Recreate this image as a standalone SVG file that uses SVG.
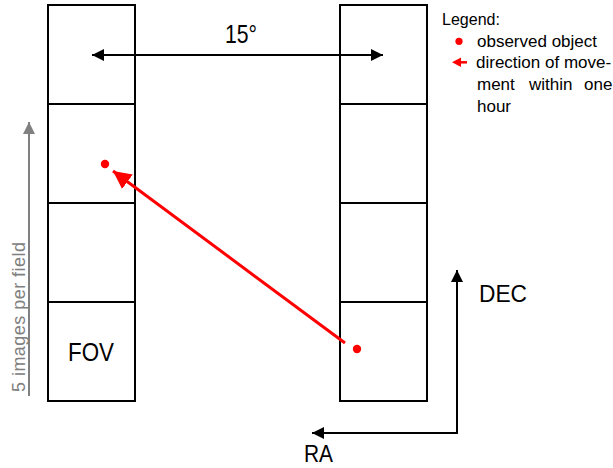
<svg xmlns="http://www.w3.org/2000/svg" width="613" height="468" viewBox="0 0 613 468">
<style>
  .cell { fill: #fff; stroke: #000; stroke-width: 2; }
  .t { font-family: "Liberation Sans", Arial, sans-serif; fill: #000; }
  .lg { font-size: 17px; }
  .blk { stroke: #000; stroke-width: 2; fill: none; }
  .red { stroke: #ff0000; stroke-width: 3; fill: none; }
</style>
<defs>
  <marker id="ah" viewBox="0 0 10 10" refX="10" refY="5" markerWidth="6" markerHeight="6" markerUnits="strokeWidth" orient="auto-start-reverse">
    <path d="M0,0 L10,5 L0,10 Z" fill="#000"/>
  </marker>
  <marker id="ahg" viewBox="0 0 10 10" refX="10" refY="5" markerWidth="6" markerHeight="6" markerUnits="strokeWidth" orient="auto">
    <path d="M0,0 L10,5 L0,10 Z" fill="#808080"/>
  </marker>
  <marker id="ahr" viewBox="0 0 10 10" refX="10" refY="5" markerWidth="6" markerHeight="6" markerUnits="strokeWidth" orient="auto">
    <path d="M0,0 L10,5 L0,10 Z" fill="#ff0000"/>
  </marker>
</defs>
<rect width="613" height="468" fill="#fff"/>
<g id="left-column">
  <rect class="cell" x="48" y="5" width="87" height="99"/>
  <rect class="cell" x="48" y="104" width="87" height="99"/>
  <rect class="cell" x="48" y="203" width="87" height="99"/>
  <rect class="cell" x="48" y="302" width="87" height="99"/>
  <text class="t" x="68" y="361" font-size="25" textLength="46" lengthAdjust="spacingAndGlyphs">FOV</text>
</g>
<g id="right-column">
  <rect class="cell" x="340" y="5" width="87" height="99"/>
  <rect class="cell" x="340" y="104" width="87" height="99"/>
  <rect class="cell" x="340" y="203" width="87" height="99"/>
  <rect class="cell" x="340" y="302" width="87" height="99"/>
</g>
<g id="objects">
  <circle cx="105" cy="164" r="4.2" fill="#ff0000"/>
  <circle cx="357" cy="349" r="4.2" fill="#ff0000"/>
</g>
<g id="connectors">
  <line class="blk" x1="92" y1="55" x2="383" y2="55" marker-start="url(#ah)" marker-end="url(#ah)"/>
  <line x1="29" y1="396" x2="29" y2="122" stroke="#808080" stroke-width="2" marker-end="url(#ahg)"/>
  <line class="red" x1="345" y1="343" x2="113" y2="171" marker-end="url(#ahr)"/>
  <polyline class="blk" points="457,270 457,433 312,433" marker-start="url(#ah)" marker-end="url(#ah)"/>
</g>
<g id="labels">
  <text class="t" x="225" y="43" font-size="25" textLength="32" lengthAdjust="spacingAndGlyphs">15°</text>
  <text class="t" x="479" y="302" font-size="24" textLength="48" lengthAdjust="spacingAndGlyphs">DEC</text>
  <text class="t" x="304" y="462" font-size="24" textLength="29" lengthAdjust="spacingAndGlyphs">RA</text>
  <text class="t" x="0" y="0" font-size="18" style="fill:#808080" textLength="150" transform="translate(25,392) rotate(-90)">5 images per field</text>
</g>
<g id="legend">
  <text class="t lg" x="442" y="25" textLength="58" lengthAdjust="spacingAndGlyphs">Legend:</text>
  <circle cx="459" cy="41.3" r="3.6" fill="#ff0000"/>
  <text class="t lg" x="477" y="47">observed object</text>
  <line x1="467" y1="62.3" x2="459" y2="62.3" stroke="#ff0000" stroke-width="2.5"/>
  <polygon points="452,62.3 461,57.5 461,67" fill="#ff0000"/>
  <text class="t lg" x="476" y="68">direction of move-</text>
  <text class="t lg" y="90"><tspan x="477">ment</tspan><tspan x="529">within</tspan><tspan x="584">one</tspan></text>
  <text class="t lg" x="477" y="112">hour</text>
</g>
</svg>
